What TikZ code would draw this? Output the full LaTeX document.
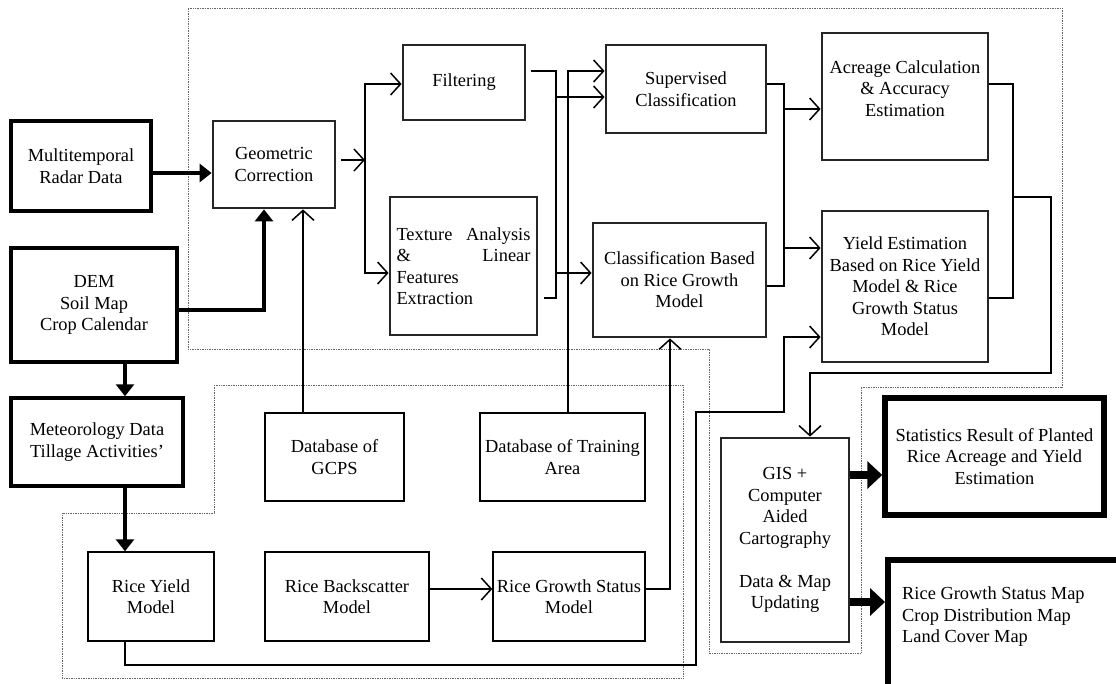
\documentclass[tikz,border=0pt]{standalone}
\usepackage{fontspec}
\setmainfont{Liberation Serif}
\usepackage{tikz}
\usetikzlibrary{arrows.meta,calc,positioning}
\tikzset{%
	base/.style       = {rectangle, align=center, inner sep=2pt, font=\fontsize{18.4}{21.5}\selectfont},
	inbox/.style      = {base, draw, line width=3.5pt},
	process/.style    = {base, draw=black!85, line width=2.8pt},
	database/.style   = {base, draw, line width=1.4pt},
	result/.style     = {base, draw, line width=5.5pt},
	line/.style       = {line width=1.5pt},
	arrow/.style      = {line width=1.5pt, -{Straight Barb[length=10pt,width=22pt]}},
	twoarrow/.style   = {line width=1.5pt, {Straight Barb[length=10pt,width=22pt]}-{Straight Barb[length=10pt,width=22pt]}},
	thickarrow/.style = {line width=4pt, -{Triangle[length=12pt,width=18pt]}},
	fatarrow/.style   = {line width=7.5pt, -{Triangle[length=15pt,width=27pt]}},
	region/.style     = {densely dotted, line width=0.7pt, black!60},
}
\begin{document}
\begin{tikzpicture}[x=1pt,y=-1pt]
	\clip (0,0) rectangle (1116,683);
	
	% dotted groups
	\draw[region] (188,8) -- (1062,8) -- (1062,387) -- (861,387) -- (861,653) -- (709,653) -- (709,349) -- (188,349) -- cycle;
	\draw[region] (214,385) -- (683,385) -- (683,678) -- (62,678) -- (62,513) -- (214,513) -- cycle;
	
	% inputs
	\node[inbox, minimum width=140pt, minimum height=90pt] (radar) at (81,166) {Multitemporal\\Radar Data};
	\node[inbox, minimum width=166pt, minimum height=114pt] (dem) at (94,305) {DEM\\Soil Map\\Crop Calendar};
	\node[inbox, minimum width=172pt, minimum height=88pt] (meteo) at (97,442) {Meteorology Data\\Tillage Activities'};
	
	% image processing
	\node[process, minimum width=122pt, minimum height=87pt] (geo) at (274,164.5) {Geometric\\Correction};
	\node[process, minimum width=122pt, minimum height=75pt] (filt) at (464,82.5) {Filtering};
	\node[process, text width=134pt, align=left, inner xsep=6.5pt, minimum height=138pt] (texture) at (463.5,266) {Texture\hfill Analysis\\\&\hfill Linear\\Features\\Extraction};
	\node[process, minimum width=160pt, minimum height=88pt] (sup) at (686,89) {Supervised\\Classification};
	\node[process, minimum width=173pt, minimum height=114pt] (cbr) at (679.5,280) {Classification Based\\on Rice Growth\\Model};
	\node[process, minimum width=166pt, minimum height=127pt] (acre) at (905,96.5) {Acreage Calculation\\\& Accuracy\\Estimation\\[-5pt]\mbox{}};
	\node[process, minimum width=166pt, minimum height=151pt] (yield) at (905,286.5) {Yield Estimation\\Based on Rice Yield\\Model \& Rice\\Growth Status\\Model};
	
	% databases and models
	\node[database, minimum width=139pt, minimum height=88pt] (gcps) at (334.5,457) {Database of\\GCPS};
	\node[database, minimum width=165pt, minimum height=88pt] (train) at (562.5,457) {Database of Training\\Area};
	\node[database, minimum width=126pt, minimum height=89pt] (rym) at (151,596.5) {Rice Yield\\Model};
	\node[database, minimum width=164pt, minimum height=89pt] (rbm) at (347,596.5) {Rice Backscatter\\Model};
	\node[database, minimum width=152pt, minimum height=89pt] (rgs) at (569,596.5) {Rice Growth Status\\Model};
	
	% outputs
	\node[process, minimum width=128pt, minimum height=204pt] (gis) at (785,540) {GIS +\\Computer\\Aided\\Cartography\\[21.5pt]Data \& Map\\Updating};
	\node[result, minimum width=219pt, minimum height=117pt] (stat) at (994.5,456.5) {Statistics Result of Planted\\Rice Acreage and Yield\\Estimation};
	\node[result, minimum width=260pt, minimum height=170pt, anchor=north west] (maps) at (885,557) {};
	\node[base, align=left, anchor=west] (mapstext) at (900,617) {Rice Growth Status Map\\Crop Distribution Map\\Land Cover Map};
	
	% junction points
	\coordinate (yr) at (0,173);
	\coordinate (xd) at (264,310);
	\coordinate (xm) at (125,0);
	\coordinate (xg) at (303,0);
	\coordinate (jgeo) at (365,160);
	\coordinate (jfil) at (365,84);
	\coordinate (jtex) at (365,273);
	\coordinate (jf1) at (556,71);
	\coordinate (jf2) at (556,298);
	\coordinate (js1) at (556,97);
	\coordinate (jc1) at (556,273);
	\coordinate (jt) at (568,71);
	\coordinate (jq1) at (784,84);
	\coordinate (jq2) at (784,286);
	\coordinate (ja) at (784,109);
	\coordinate (jy) at (784,248);
	\coordinate (jr1) at (1013,84);
	\coordinate (jr2) at (1013,298);
	\coordinate (jr3) at (1013,197);
	\coordinate (jr4) at (1051,373);
	\coordinate (jgis) at (810,373);
	\coordinate (jg1) at (670,589);
	\coordinate (jw1) at (125,665);
	\coordinate (jw2) at (696,412);
	\coordinate (jw3) at (784,337);
	\coordinate (jst) at (0,475);
	\coordinate (jmp) at (0,602);
	
	% thick arrows
	\draw[thickarrow] (radar.east |- yr) -- (geo.west |- yr);
	\draw[thickarrow] (dem.east |- xd) -| (geo.south -| xd);
	\draw[thickarrow] (dem.south -| xm) -- (meteo.north -| xm);
	\draw[thickarrow] (meteo.south -| xm) -- (rym.north -| xm);
	\draw[fatarrow] (gis.east |- jst) -- (stat.west |- jst);
	\draw[fatarrow] (gis.east |- jmp) -- (maps.west |- jmp);
	
	% thin connectors
	\draw[arrow] ($(geo.east |- jgeo)+(5,0)$) -- (jgeo);
	\draw[twoarrow] (jfil -| filt.west) -- (jfil) -- (jtex) -- (jtex -| texture.west);
	\draw[arrow] (gcps.north -| xg) -- (geo.south -| xg);
	\draw[line] ($(filt.east |- jf1)+(5,0)$) -- (jf1) -- (jf2) -- ($(texture.east |- jf2)+(6,0)$);
	\draw[arrow] (js1) -- (js1 -| sup.west);
	\draw[arrow] (jc1) -- (jc1 -| cbr.west);
	\draw[arrow] (train.north -| jt) -- (jt) -- (jt -| sup.west);
	\draw[line] (sup.east |- jq1) -- (jq1) -- (jq2) -- (cbr.east |- jq2);
	\draw[arrow] (ja) -- (ja -| acre.west);
	\draw[arrow] (jy) -- (jy -| yield.west);
	\draw[line] (acre.east |- jr1) -- (jr1) -- (jr2) -- (yield.east |- jr2);
	\draw[arrow] (jr3) -| (jr4) -- (jgis) -- (jgis |- gis.north);
	\draw[arrow] (rbm.east |- jg1) -- (rgs.west |- jg1);
	\draw[arrow] (rgs.east |- jg1) -- (jg1) -- (jg1 |- cbr.south);
	\draw[arrow] (rym.south -| jw1) -- (jw1) -| (jw2) -| (jw3) -- (jw3 -| yield.west);
\end{tikzpicture}
\end{document}
